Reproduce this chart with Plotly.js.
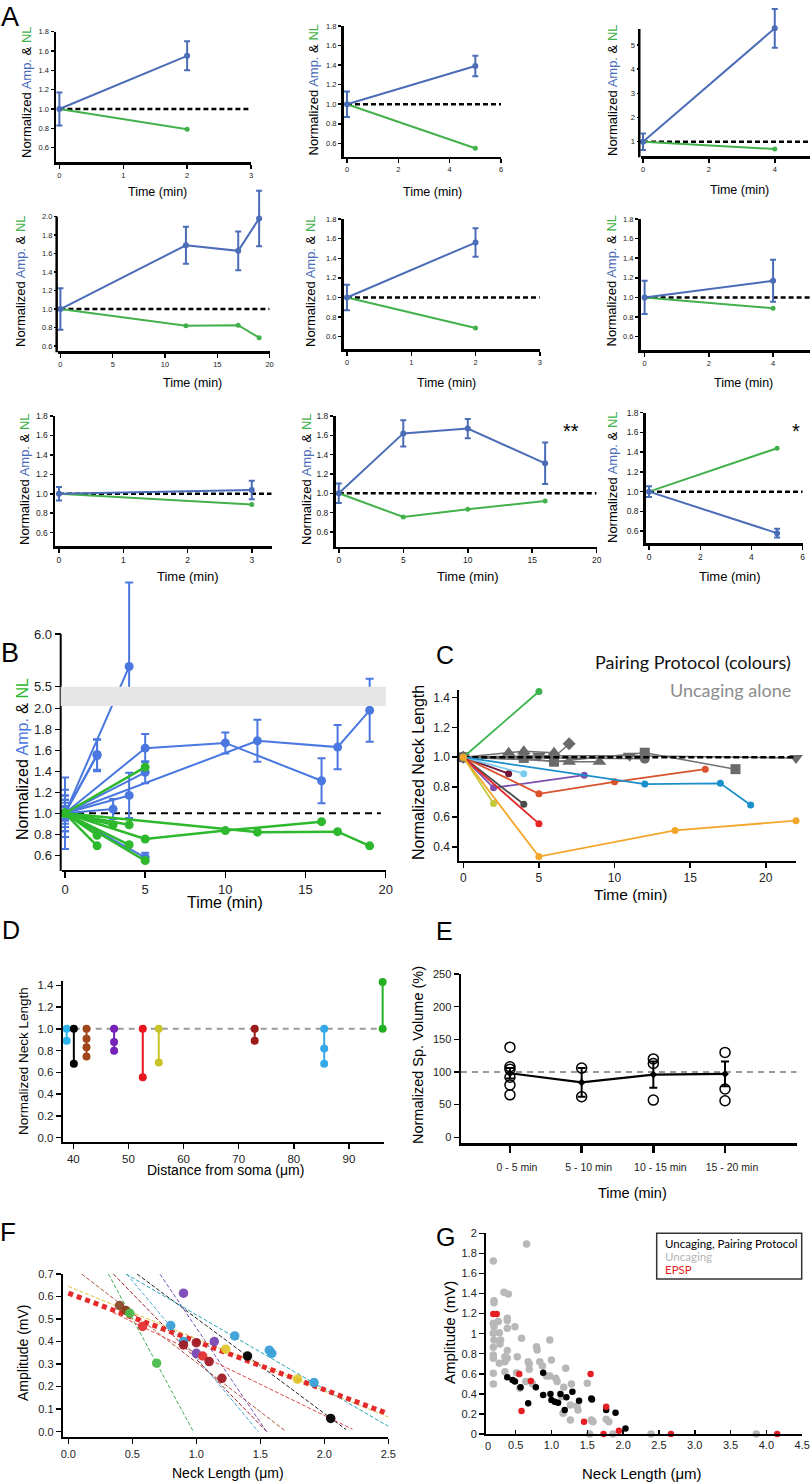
<!DOCTYPE html>
<html><head><meta charset="utf-8">
<script src="https://cdn.plot.ly/plotly-3.0.1.min.js"></script>
<style>html,body{margin:0;padding:0;background:#fff}#chart{width:810px;height:1483px}</style>
</head><body><div id="chart"></div>
<script>
// ===================== DATA =====================
// Panel A / B : nine experiments (time in min)
const aTime   = [[0,2],[0,5],[0,4],[0,12,17,19],[0,2],[0,4],[0,3],[0,5,10,16],[0,5]];
const aAmp    = [[1,1.55],[1,1.39],[1,5.69],[1,1.69,1.63,1.98],[1,1.56],[1,1.17],[1,1.04],[1,1.62,1.67,1.31],[1,0.58]];
const aAmpErr = [[0.17,0.15],[0.13,0.105],[0.34,0.8],[0.225,0.2,0.21,0.3],[0.13,0.145],[0.17,0.215],[0.07,0.095],[0.10,0.135,0.10,0.215],[0.055,0.045]];
const aNL     = [[1,0.79],[1,0.55],[1,0.70],[1,0.82,0.825,0.69],[1,0.69],[1,0.89],[1,0.89],[1,0.755,0.835,0.92],[1,1.44]];
const aStars  = ['','','','','','','','**','*'];
const BASELINE = 1.0;

// Panel C : neck length over time
const cColors = ['#3cb44b','#6e1436','#7ccbf0','#7b4fb0','#d9522b','#1b8fcc','#4a4a4a','#e52527','#c3c93a','#f2a62a'];
const cTime   = [[0,5],[0,3],[0,4],[0,2,8],[0,5,10,16],[0,12,17,19],[0,4],[0,5],[0,2],[0,5,14,22]];
const cNL     = [[1,1.44],[1,0.89],[1,0.89],[1,0.795,0.88],[1,0.755,0.835,0.92],[1,0.82,0.825,0.68],[1,0.685],[1,0.555],[1,0.69],[1,0.335,0.51,0.575]];
const cUncSymbols = ['triangle-up','triangle-up','square','diamond','triangle-down','circle'];
const cUncTime = [[0,3,4,6],[0,7,9],[0,4,6,12,18],[0,6,7],[0,5,11,22],[0,12]];
const cUncNL   = [[1,1.03,1.04,1.03],[1,0.97,0.97],[1,0.995,0.97,1.03,0.92],[1,1.0,1.09],[1,1.01,1.01,0.995],[1,0.99]];

// Panel D : distance from soma
const dDist   = [38.8,40.1,42.4,47.4,52.6,55.5,72.9,85.5,96.1];
const dNL     = [[1,0.89],[1,0.68],[1,0.91,0.83,0.745],[1,0.88,0.80],[1,0.555],[1,0.69],[1,0.89],[1,0.82,0.68],[1,1.43]];
const dColors = ['#2bb5f0','#000000','#a0461a','#7522b8','#e8141e','#c8c428','#9b1b1b','#35a9e8','#22b022'];

// Panel E : spine volume
const eCats   = ['0 - 5 min','5 - 10 min','10 - 15 min','15 - 20 min'];
const eSpines = [[138,108,104,92,80,65],[106,62],[120,113,57],[130,74,56]];
const eMean   = [98,84,96,97];
const eSem    = [8,22,20,19];

// Panel F : amplitude vs neck length
const fNeck  = [0.40,0.45,0.48,0.58,0.69,0.80,0.90,0.90,0.90,1.00,1.00,1.05,1.10,1.14,1.20,1.23,1.30,1.40,1.57,1.59,1.79,1.92,2.05];
const fAmp   = [0.56,0.538,0.526,0.467,0.304,0.471,0.615,0.40,0.385,0.348,0.395,0.336,0.311,0.40,0.237,0.366,0.425,0.336,0.362,0.348,0.233,0.218,0.059];
const fColor = ['#8b4a2a','#8b3a1a','#4cbb4c','#e43030','#4cbb4c','#3aa0d8','#7a48b5','#3aa0d8','#a01c28','#7a48b5','#a01c28','#e43030','#a01c28','#7a48b5','#a01c28','#e0c830','#3aa0d8','#000000','#3aa0d8','#3aa0d8','#e0c830','#3aa0d8','#000000'];
const fitColor     = ['#b0503a','#3fae55','#9b1c28','#4aa6d8','#222222','#7a50b8','#2aa3b5','#e04848','#d8c440'];
const fitIntercept = [0.7456,1.03,0.9056,1.01,0.927,1.30,0.849,0.626,0.645];
const fitSlope     = [-0.438,-1.054,-0.584,-0.680,-0.423,-0.839,-0.33,-0.277,-0.232];
const fitXFrom     = [0.104,0.313,0.352,0.456,0.537,0.716,0.45,0.35,0.0];
const fitXTo       = [1.69,0.977,1.55,1.485,2.17,1.55,2.5,2.22,2.5];
const poolIntercept = 0.615, poolSlope = -0.2144, poolXFrom = 0, poolXTo = 2.5;

// Panel G
const gUncX = [0.652,0.188,0.197,0.197,0.337,0.397,0.383,0.383,0.188,0.197,0.258,0.383,0.490,0.188,0.272,0.290,0.197,0.188,0.281,0.188,0.188,0.272,0.188,0.188,0.350,0.383,0.383,0.350,0.522,0.582,0.675,0.689,0.689,0.350,0.513,0.643,0.559,0.791,0.800,0.874,0.976,0.999,0.930,0.976,1.060,1.078,1.199,1.171,1.278,1.139,1.162,1.264,1.264,1.356,1.370,1.500,1.556,1.569,1.532,1.579,1.764,1.801,1.857,2.390,3.860,0.837,0.735];
const gUncY = [1.894,1.724,1.329,1.309,1.412,1.395,1.153,1.13,1.103,1.07,1.12,1.053,1.07,1.003,1.01,0.937,0.937,0.864,0.897,0.787,0.754,0.704,0.605,0.498,0.771,0.831,0.754,0.721,0.771,0.953,0.721,0.698,0.645,0.621,0.611,0.522,0.455,0.870,0.837,0.678,0.937,0.738,0.578,0.578,0.555,0.522,0.654,0.465,0.498,0.372,0.206,0.289,0.14,0.279,0.239,0.505,0.14,0.13,0,0.123,0.146,0.123,0,0,0,0.721,0.5];
const gPairX = [0.383,0.457,0.490,0.568,0.675,0.782,0.884,0.884,0.986,0.999,1.046,1.092,1.125,1.185,1.208,1.292,1.385,1.556,1.565,1.764,1.894,2.033];
const gPairY = [0.565,0.538,0.522,0.465,0.306,0.465,0.611,0.389,0.399,0.339,0.322,0.312,0.399,0.239,0.365,0.422,0.332,0.355,0.345,0.239,0.213,0.056];
const gEpspX = [0.188,0.235,0.550,0.582,0.712,1.454,1.546,1.764,1.727,1.941,2.668,4.151];
const gEpspY = [1.196,1.196,0.598,0.229,0.528,0.123,0.598,0.272,0,0.033,0,0];
const gLegend = ['Uncaging, Pairing Protocol','Uncaging','EPSP'];

// ===================== LAYOUT HELPERS =====================
const W = 810, H = 1483;
const FONT = 'Liberation Sans, Arial, Helvetica, sans-serif';
const FONT2 = 'Lato, Liberation Sans, Arial, sans-serif';
const BLUE_A = '#4b6cb7', GREEN_A = '#43b14b';
const BLUE_B = '#4a78e0', GREEN_B = '#2db82d';

const layout = {width:W, height:H, margin:{l:0,r:0,t:0,b:0}, paper_bgcolor:'#fff', plot_bgcolor:'rgba(0,0,0,0)',
  showlegend:false, font:{family:FONT, color:'#000'}, annotations:[], shapes:[]};
const traces = [];
let axN = 0;
function seq(a,b,step){const n=Math.round((b-a)/step);const o=[];for(let i=0;i<=n;i++)o.push(Math.round((a+i*step)*1000)/1000);return o;}
function addAxes(xd,xr,yd,yr,xopt,yopt){
  axN++; const s = axN===1?'':String(axN);
  const base = {showline:true, linecolor:'#000', linewidth:2, ticks:'outside', tickcolor:'#000', tickwidth:1.5, ticklen:4,
    showgrid:false, zeroline:false, fixedrange:true, tickfont:{family:FONT,size:8,color:'#222'}, tickmode:'array'};
  layout['xaxis'+s] = Object.assign({}, base, {domain:[xd[0]/W, xd[1]/W], range:xr, anchor:'y'+s}, xopt||{});
  layout['yaxis'+s] = Object.assign({}, base, {domain:[1-yd[1]/H, 1-yd[0]/H], range:yr, anchor:'x'+s}, yopt||{});
  return {x:'x'+s, y:'y'+s};
}
// vertical axis line drawn as a shape when the plotting area must extend above the axis end
function axisLine(px, py0, py1, w){
  layout.shapes.push({type:'line', xref:'paper', yref:'paper', x0:(px-w/2)/W, x1:(px-w/2)/W, y0:1-py0/H, y1:1-(py1+w/2)/H, line:{color:'#000',width:w}, layer:'above'});
}
function ann(text,px,py,size,opt){
  layout.annotations.push(Object.assign({text:text, x:px/W, y:1-py/H, xref:'paper', yref:'paper', showarrow:false,
    xanchor:'center', yanchor:'middle', font:{family:FONT,size:size,color:'#000'}}, opt||{}));
}
function tf(size){return {family:FONT,size:size,color:'#222'};}

// ===================== PANEL A =====================
const aGeo = [
 {xd:[56,251],    xr:[-0.053,3.0],  xt:[0,3,1],  yd:[31.7,162],  yr:[0.452,1.8], yt:[0.6,1.8,0.2]},
 {xd:[343.5,501], xr:[-0.136,6],    xt:[0,6,2],  yd:[26,156.7],  yr:[0.463,1.8], yt:[0.6,1.8,0.2]},
 {xd:[640.5,810], xr:[-0.076,5.07], xt:[0,4,2],  yd:[8,156],     yr:[0.41,6.53], yt:[1,5,1], lineTop:29},
 {xd:[57.9,269.6],xr:[-0.24,20],    xt:[0,20,5], yd:[188,351],   yr:[0.546,2.31], yt:[0.6,2.0,0.2], lineTop:216.7},
 {xd:[343.5,539.8],xr:[-0.054,3],   xt:[0,3,1],  yd:[219,349.3], yr:[0.472,1.8], yt:[0.6,1.8,0.2]},
 {xd:[640.5,810], xr:[-0.128,5.15], xt:[0,4,2],  yd:[219,350],   yr:[0.464,1.8], yt:[0.6,1.8,0.2]},
 {xd:[55,271.7],  xr:[-0.062,3.31], xt:[0,3,1],  yd:[416,546],   yr:[0.463,1.8], yt:[0.6,1.8,0.2]},
 {xd:[335.5,596.7],xr:[-0.256,20],  xt:[0,20,5], yd:[416,546.7], yr:[0.447,1.8], yt:[0.6,1.8,0.2]},
 {xd:[645.7,802.7],xr:[-0.13,6],    xt:[0,6,2],  yd:[412.7,543.3],yr:[0.477,1.8],yt:[0.6,1.8,0.2]}
];
const aYTitle = [[26,92],[312.5,90],[612,90],[20,281],[310,281],[610.5,281],[24,479],[306,479],[613,477]];
const aXTitle = [[157.5,192],[432.8,192],[739.7,190],[192,383],[446.8,383],[743.8,383],[188.3,576],[468.3,576],[730,576]];
const aStarPos = [null,null,null,null,null,null,null,[571,431],[795.5,431]];
const ampNL = 'Normalized <span style="color:'+BLUE_A+'">Amp.</span> &amp; <span style="color:'+GREEN_A+'">NL</span>';

for(let i=0;i<9;i++){
  const g = aGeo[i]; const row = Math.floor(i/3);
  const f = tf(row<2?7.5:8.5);
  const ax = addAxes(g.xd,g.xr,g.yd,g.yr,
    {tickvals:seq(g.xt[0],g.xt[1],g.xt[2]), tickfont:f, linewidth:2.5, ticklen:4},
    {tickvals:seq(g.yt[0],g.yt[1],g.yt[2]), tickformat:g.yt[2]<1?'.1f':'d', tickfont:f, linewidth:2.5, ticklen:3, showline:!g.lineTop});
  if(g.lineTop) axisLine(g.xd[0], g.lineTop, g.yd[1], 2.5);
  traces.push({x:[0,g.xr[1]], y:[BASELINE,BASELINE], xaxis:ax.x, yaxis:ax.y, mode:'lines', line:{color:'#000',width:2.5,dash:'5px,3px'}, hoverinfo:'skip'});
  traces.push({x:aTime[i], y:aNL[i], xaxis:ax.x, yaxis:ax.y, mode:'lines+markers', cliponaxis:false,
    line:{color:GREEN_A,width:2}, marker:{color:GREEN_A,size:5}});
  traces.push({x:aTime[i], y:aAmp[i], xaxis:ax.x, yaxis:ax.y, mode:'lines+markers', cliponaxis:false,
    line:{color:BLUE_A,width:2}, marker:{color:BLUE_A,size:6},
    error_y:{type:'data', array:aAmpErr[i], visible:true, color:BLUE_A, thickness:2, width:3}});
  ann(ampNL, aYTitle[i][0], aYTitle[i][1], 13, {textangle:-90});
  ann('Time (min)', aXTitle[i][0], aXTitle[i][1], row<2?12.5:13);
  if(aStars[i]) ann(aStars[i], aStarPos[i][0], aStarPos[i][1], 20);
}

// ===================== PANEL B =====================
const BREAK_SHIFT = 3.293, BREAK_AT = 3;
function brk(v){return v > BREAK_AT ? v - BREAK_SHIFT : v;}
const bandLo = 2.02, bandHi = brk(5.49), bandMid = 2.1;
const bTickVals = [0.6,0.8,1.0,1.2,1.4,1.6,1.8,2.0,5.5,6.0];
const axB = addAxes([61.7,385.7],[-0.206,20],[580,870],[0.46,3.221],
  {tickvals:[0,5,10,15,20], tickfont:tf(13), ticklen:6},
  {tickvals:bTickVals.map(brk), ticktext:bTickVals.map(v=>v.toFixed(1)), tickfont:tf(13), ticklen:6, showline:false});
axisLine(61.7, 634, 870, 2);
traces.push({x:[0,19.7], y:[BASELINE,BASELINE], xaxis:axB.x, yaxis:axB.y, mode:'lines', line:{color:'#000',width:2,dash:'7px,5px'}, hoverinfo:'skip'});
for(let i=0;i<9;i++){
  const ym = aAmp[i].map(brk);
  const plus = aAmp[i].map((v,k)=>brk(v+aAmpErr[i][k]) - brk(v));
  const minus = aAmp[i].map((v,k)=>{const lo=v-aAmpErr[i][k]; return (v>BREAK_AT && lo<5.49) ? brk(v)-bandMid : brk(v)-brk(lo);});
  traces.push({x:aTime[i], y:ym, xaxis:axB.x, yaxis:axB.y, mode:'lines+markers', cliponaxis:false,
    line:{color:BLUE_B,width:2}, marker:{color:BLUE_B,size:9},
    error_y:{type:'data', symmetric:false, array:plus, arrayminus:minus, visible:true, color:BLUE_B, thickness:2, width:4}});
}
for(let i=0;i<9;i++){
  traces.push({x:aTime[i], y:aNL[i].map(brk), xaxis:axB.x, yaxis:axB.y, mode:'lines+markers', cliponaxis:false,
    line:{color:GREEN_B,width:2.5}, marker:{color:GREEN_B,size:9}});
}
layout.shapes.push({type:'rect', xref:'paper', yref:'paper', x0:60.7/W, x1:386/W, y0:1-706/H, y1:1-686.7/H, fillcolor:'#e6e6e6', line:{width:0}, layer:'above'});
ann('Normalized <span style="color:'+BLUE_B+'">Amp.</span> &amp; <span style="color:'+GREEN_B+'">NL</span>', 22, 759, 16, {textangle:-90});
ann('Time (min)', 225, 902, 16);

// ===================== PANEL C =====================
const axC = addAxes([459.3,796],[-0.264,22.0],[690,861],[0.305,1.45],
  {tickvals:[0,5,10,15,20], tickfont:tf(12), ticklen:5},
  {tickvals:seq(0.4,1.4,0.2), tickformat:'.1f', tickfont:tf(12), ticklen:5});
for(let i=0;i<cUncTime.length;i++){
  const sym = cUncSymbols[i];
  traces.push({x:cUncTime[i], y:cUncNL[i], xaxis:axC.x, yaxis:axC.y, mode:'lines+markers', cliponaxis:false,
    line:{color:'#707070',width:1.5}, marker:{color:'#6a6a6a', symbol:sym, size:sym.indexOf('triangle')===0?12:10}});
}
traces.push({x:[0,22], y:[BASELINE,BASELINE], xaxis:axC.x, yaxis:axC.y, mode:'lines', line:{color:'#000',width:2.5,dash:'6px,3px'}, hoverinfo:'skip'});
for(let i=0;i<cTime.length;i++){
  traces.push({x:cTime[i], y:cNL[i], xaxis:axC.x, yaxis:axC.y, mode:'lines+markers', cliponaxis:false,
    line:{color:cColors[i],width:1.8}, marker:{color:cColors[i],size:7}});
}
ann('Pairing Protocol (colours)', 793, 662, 18, {xanchor:'right', font:{family:FONT2,size:18,color:'#111'}});
ann('Uncaging alone', 793, 690, 18, {xanchor:'right', font:{family:FONT2,size:18,color:'#8c8c8c'}});
ann('Normalized Neck Length', 418, 773, 16, {textangle:-90});
ann('Time (min)', 630, 895, 15.5);

// ===================== PANEL D =====================
const axD = addAxes([62.7,384.3],[38.08,96.4],[981,1141.7],[-0.037,1.44],
  {tickvals:seq(40,90,10), tickfont:tf(11.5), ticklen:5},
  {tickvals:seq(0,1.4,0.2), tickformat:'.1f', tickfont:tf(11.5), ticklen:5});
traces.push({x:[38.08,96.4], y:[BASELINE,BASELINE], xaxis:axD.x, yaxis:axD.y, mode:'lines', line:{color:'#9a9a9a',width:2,dash:'6px,5px'}, hoverinfo:'skip'});
for(let i=0;i<dDist.length;i++){
  traces.push({x:dNL[i].map(()=>dDist[i]), y:dNL[i], xaxis:axD.x, yaxis:axD.y, mode:'lines+markers', cliponaxis:false,
    line:{color:dColors[i],width:2}, marker:{color:dColors[i],size:8}});
}
ann('Normalized Neck Length', 23, 1061, 13.5, {textangle:-90});
ann('Distance from soma (\u03bcm)', 225, 1170, 14);

// ===================== PANEL E =====================
const axE = addAxes([461,796.7],[-0.683,4.0],[974,1143.3],[-9.2,250],
  {tickvals:[0,1,2,3], ticktext:eCats, tickfont:tf(10.5), ticklen:7, tickwidth:2.5, linewidth:2.5, ticklabelshift:7, ticklabelstandoff:6},
  {tickvals:seq(0,250,50), tickfont:tf(11), ticklen:5, linewidth:2.5});
traces.push({x:[-0.683,4.0], y:[100,100], xaxis:axE.x, yaxis:axE.y, mode:'lines', line:{color:'#9a9a9a',width:2,dash:'6px,5px'}, hoverinfo:'skip'});
for(let i=0;i<eSpines.length;i++){
  traces.push({x:eSpines[i].map(()=>i), y:eSpines[i], xaxis:axE.x, yaxis:axE.y, mode:'markers', cliponaxis:false,
    marker:{symbol:'circle-open', color:'#000', size:10, line:{width:1.5,color:'#000'}}});
}
traces.push({x:eMean.map((v,i)=>i), y:eMean, xaxis:axE.x, yaxis:axE.y, mode:'lines+markers',
  line:{color:'#000',width:2.2}, marker:{color:'#000',size:6,symbol:'diamond'},
  error_y:{type:'data', array:eSem, visible:true, color:'#000', thickness:2, width:4}});
ann('Normalized Sp. Volume (%)', 418, 1055, 14.5, {textangle:-90});
ann('Time (min)', 632, 1193, 14.5);

// ===================== PANEL F =====================
const axF = addAxes([62.7,388.3],[-0.044,2.5],[1274,1437.3],[-0.025,0.7],
  {tickvals:seq(0,2.5,0.5), tickformat:'.1f', tickfont:tf(11), ticklen:5},
  {tickvals:seq(0,0.7,0.1), tickformat:'.1f', tickfont:tf(11), ticklen:5});
for(let i=0;i<fitColor.length;i++){
  const xs=[fitXFrom[i], fitXTo[i]];
  traces.push({x:xs, y:xs.map(x=>fitIntercept[i]+fitSlope[i]*x), xaxis:axF.x, yaxis:axF.y, mode:'lines',
    line:{color:fitColor[i],width:1,dash:'4px,2px'}, hoverinfo:'skip'});
}
{
  const xs=[poolXFrom,poolXTo];
  traces.push({x:xs, y:xs.map(x=>poolIntercept+poolSlope*x), xaxis:axF.x, yaxis:axF.y, mode:'lines',
    line:{color:'#e42a2a',width:5,dash:'5px,4px'}, hoverinfo:'skip'});
}
traces.push({x:fNeck, y:fAmp, xaxis:axF.x, yaxis:axF.y, mode:'markers', cliponaxis:false,
  marker:{color:fColor, size:9.5, opacity:0.95}});
ann('Amplitude (mV)', 23, 1353, 14, {textangle:-90});
ann('Neck Length (\u03bcm)', 228, 1473, 14);

// ===================== PANEL G =====================
const gTicksY = seq(0,2,0.2);
const axG = addAxes([486,802.2],[0.086,4.5],[1233.3,1434],[0,2],
  {tickvals:seq(0.5,4.5,0.5), tickformat:'.1f', tickfont:tf(11), ticks:'inside', ticklen:4},
  {tickvals:gTicksY, ticktext:gTicksY.map(v=>String(v)), tickfont:tf(11), ticklen:5});
traces.push({x:gUncX, y:gUncY, xaxis:axG.x, yaxis:axG.y, mode:'markers', cliponaxis:false, marker:{color:'#b8b8b8', size:7.5}});
traces.push({x:gPairX, y:gPairY, xaxis:axG.x, yaxis:axG.y, mode:'markers', cliponaxis:false, marker:{color:'#000', size:6.5}});
traces.push({x:gEpspX, y:gEpspY, xaxis:axG.x, yaxis:axG.y, mode:'markers', cliponaxis:false, marker:{color:'#e41e22', size:6.5}});
layout.shapes.push({type:'rect', xref:'paper', yref:'paper', x0:656.7/W, x1:801.7/W, y0:1-1279/H, y1:1-1233.3/H, line:{color:'#333',width:1.5}, fillcolor:'rgba(0,0,0,0)'});
const gLegCol = ['#000','#b4b4b4','#e41e22'];
const gLegY = [1243.3,1256.7,1269.3];
for(let i=0;i<3;i++) ann(gLegend[i], 663, gLegY[i], 11.5, {xanchor:'left', font:{family:FONT2,size:11.5,color:gLegCol[i]}});
ann('0', 487.5, 1446, 11, {font:tf(11)});
ann('Amplitude (mV)', 449, 1333, 15, {textangle:-90});
ann('Neck Length (\u03bcm)', 641.7, 1473, 15);

// ===================== PANEL LETTERS =====================
ann('A', 10, 17, 27); ann('B', 10, 653, 27); ann('C', 445, 655, 25); ann('D', 11, 930, 25);
ann('E', 444, 931, 25); ann('F', 8, 1232, 26); ann('G', 445, 1237, 25);

Plotly.newPlot('chart', traces, layout, {displayModeBar:false, staticPlot:true});
</script></body></html>
